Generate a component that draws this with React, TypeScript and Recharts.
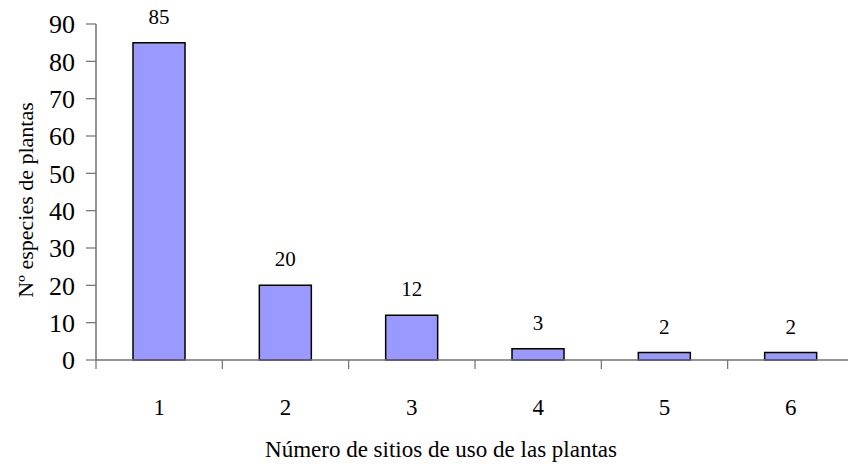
import React from "react";
import { BarChart, Bar, XAxis, YAxis, LabelList, Label } from "recharts";

const categories = ["1", "2", "3", "4", "5", "6"];
const values = [85, 20, 12, 3, 2, 2];
const yTicks = [0, 10, 20, 30, 40, 50, 60, 70, 80, 90];
const xTitle = "Número de sitios de uso de las plantas";
const yTitle = "Nº especies de plantas";

const data = categories.map((c, i) => ({ name: c, value: values[i] }));

const FONT = "'Liberation Serif', 'Times New Roman', serif";
const AXIS_COLOR = "#707070";

const XTick = (props: any) => {
  const { x, y, payload } = props;
  const off = payload && typeof payload.offset === "number" ? payload.offset : 63;
  return (
    <g>
      <line x1={x - off} y1={y} x2={x - off} y2={y + 9} stroke={AXIS_COLOR} strokeWidth={1.2} />
      <text x={x} y={y + 55} textAnchor="middle" fontFamily={FONT} fontSize={23} fill="#000">
        {payload.value}
      </text>
    </g>
  );
};

export default function App() {
  return (
    <div style={{ position: "absolute", left: 0, top: 0, width: 848, height: 475, overflow: "hidden", background: "#fff" }}>
      <BarChart width={856} height={475} data={data} margin={{ top: 24, right: 2, left: 0, bottom: 0 }}>
        <XAxis
          dataKey="name"
          height={115}
          tickSize={0}
          tickMargin={0}
          tickLine={false}
          tick={<XTick />}
          axisLine={{ stroke: AXIS_COLOR, strokeWidth: 1.5 }}
          interval={0}
        >
          <Label
            content={(p: any) => {
              const vb = p.viewBox || { x: 96, y: 360 };
              return (
                <text x={vb.x + 345} y={vb.y + 97} textAnchor="middle" fontFamily={FONT} fontSize={23} fill="#000">
                  {xTitle}
                </text>
              );
            }}
          />
        </XAxis>
        <YAxis
          width={96}
          domain={[0, 90]}
          ticks={yTicks}
          interval={0}
          tickSize={10}
          tickMargin={11}
          tickLine={{ stroke: AXIS_COLOR, strokeWidth: 1.2 }}
          axisLine={{ stroke: AXIS_COLOR, strokeWidth: 1.5 }}
          tick={{ fontFamily: FONT, fontSize: 26, fill: "#000" }}
        >
          <Label
            content={(p: any) => {
              const vb = p.viewBox || { x: 0, y: 24, height: 336 };
              const cx = vb.x + 25;
              const cy = 200;
              return (
                <text
                  x={cx}
                  y={cy}
                  transform={`rotate(-90, ${cx}, ${cy})`}
                  textAnchor="middle"
                  dominantBaseline="central"
                  fontFamily={FONT}
                  fontSize={22}
                  fill="#000"
                >
                  {yTitle}
                </text>
              );
            }}
          />
        </YAxis>
        <Bar dataKey="value" fill="#9999FF" stroke="#000" strokeWidth={1.5} barSize={52} isAnimationActive={false}>
          <LabelList dataKey="value" position="top" offset={19} fontFamily={FONT} fontSize={21} fill="#000" />
        </Bar>
      </BarChart>
    </div>
  );
}
